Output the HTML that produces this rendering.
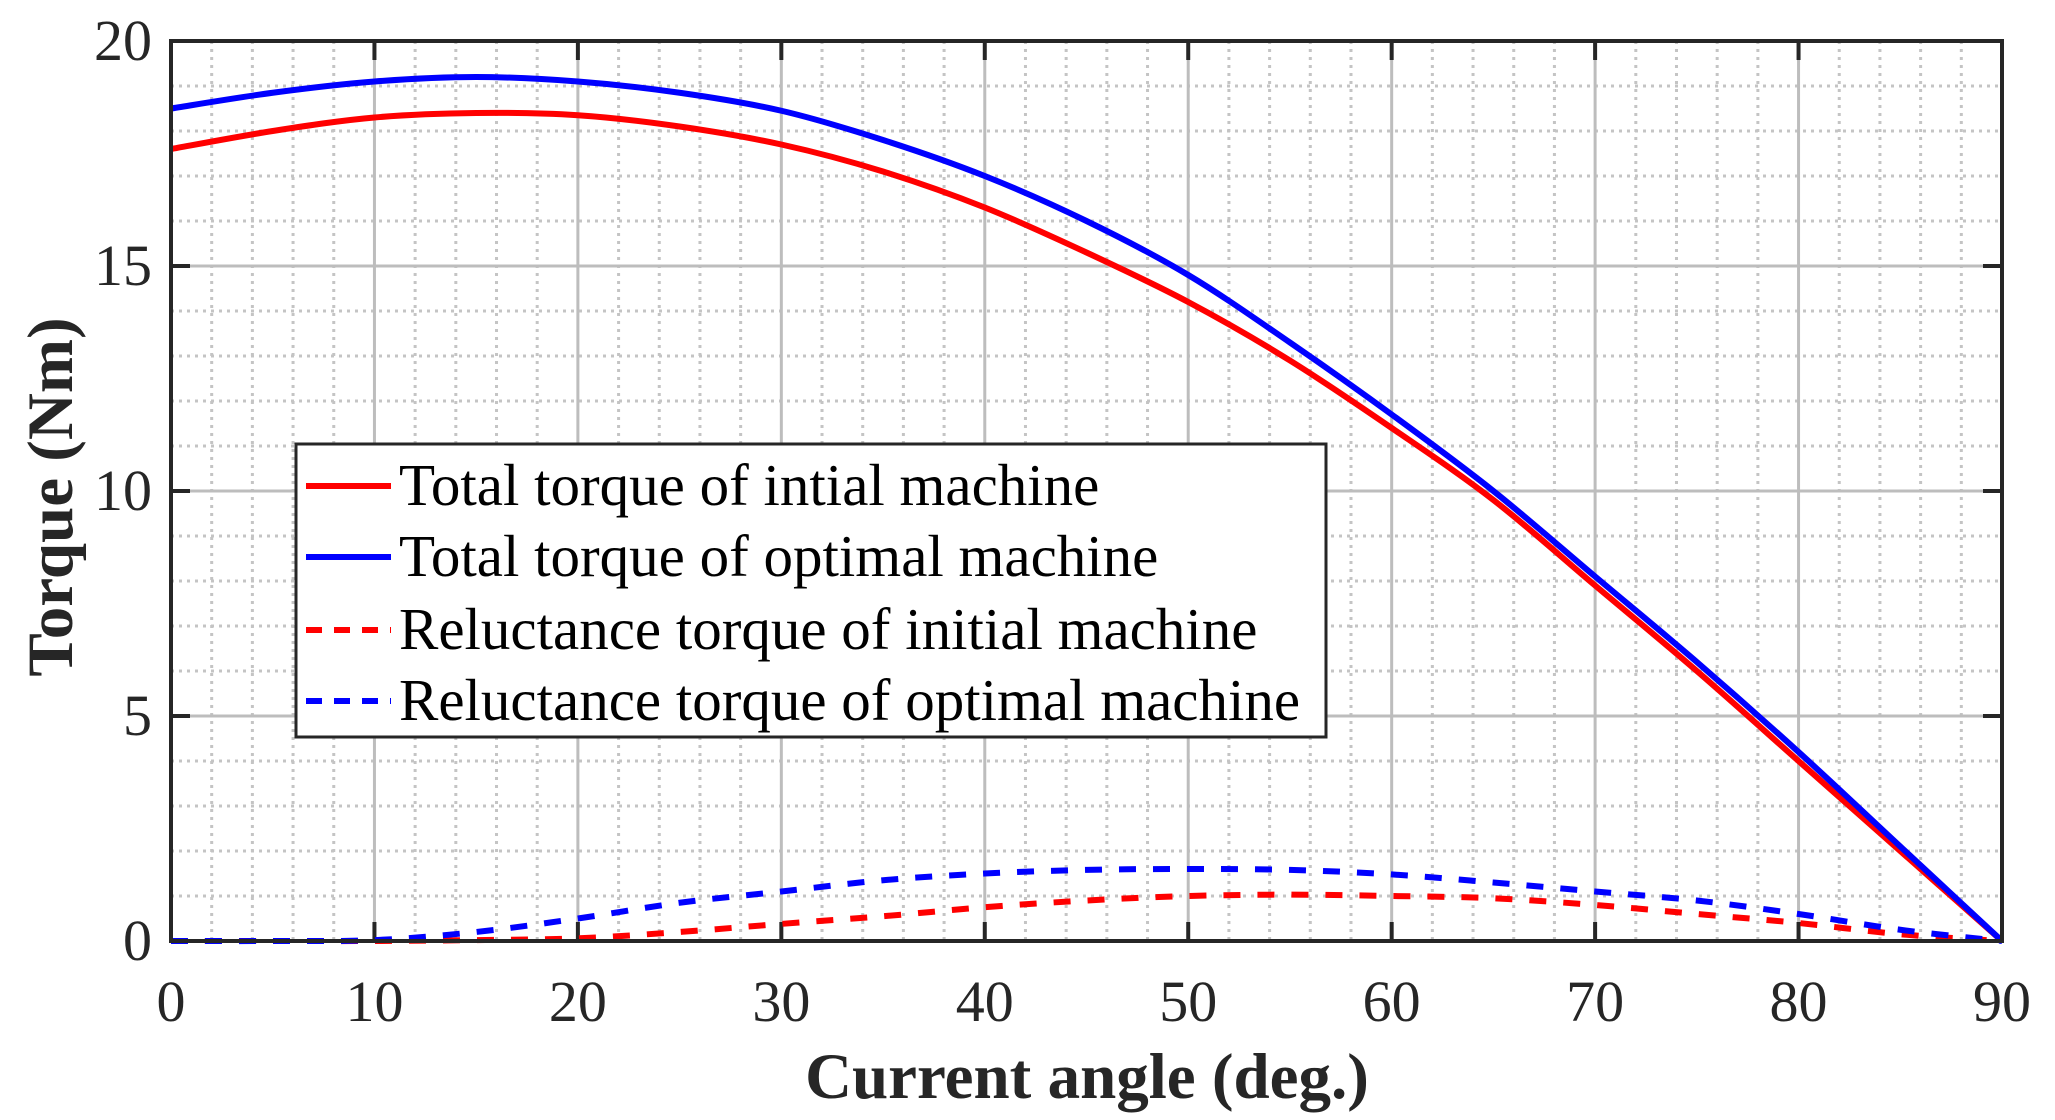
<!DOCTYPE html>
<html><head><meta charset="utf-8"><style>
html,body{margin:0;padding:0;background:#fff;}
svg{display:block;font-family:"Liberation Serif",serif;}
</style></head><body>
<svg id="chart" width="2055" height="1120" viewBox="0 0 2055 1120" xmlns="http://www.w3.org/2000/svg">
<g id="grid"></g>
<g id="ticks"></g>
<g id="series"></g>
<rect x="171" y="41" width="1831" height="900" fill="none" stroke="#262626" stroke-width="4"/>
<text x="1087" y="1098" text-anchor="middle" font-size="65" font-weight="bold" fill="#262626">Current angle (deg.)</text>
<text transform="translate(72,497) rotate(-90)" text-anchor="middle" font-size="65" font-weight="bold" fill="#262626">Torque (Nm)</text>
<g>
<rect x="296" y="444" width="1030" height="293" fill="#fff" stroke="#262626" stroke-width="3"/>
<line x1="306" y1="486" x2="391" y2="486" stroke="#f00" stroke-width="6"/>
<text x="399" y="505" font-size="59" fill="#000">Total torque of intial machine</text>
<line x1="306" y1="557" x2="391" y2="557" stroke="#00f" stroke-width="6"/>
<text x="399" y="576" font-size="59" fill="#000">Total torque of optimal machine</text>
<line x1="306" y1="630" x2="391" y2="630" stroke="#f00" stroke-width="6" stroke-dasharray="16 12"/>
<text x="399" y="649" font-size="59" fill="#000">Reluctance torque of initial machine</text>
<line x1="306" y1="701" x2="391" y2="701" stroke="#00f" stroke-width="6" stroke-dasharray="16 12"/>
<text x="399" y="720" font-size="59" fill="#000">Reluctance torque of optimal machine</text>
</g>
</svg>
<script>
const angles = [0,5,10,15,20,25,30,35,40,45,50,55,60,65,70,75,80,85,90];
const totalInitial = [17.6,18.0,18.3,18.4,18.35,18.1,17.7,17.1,16.3,15.3,14.2,12.9,11.4,9.8,7.9,6.0,4.0,2.0,0];
const totalOptimal = [18.5,18.85,19.1,19.2,19.1,18.85,18.45,17.8,17.0,16.0,14.8,13.3,11.7,10.0,8.1,6.2,4.2,2.1,0];
const relInitial = [0,0,0,0.02,0.06,0.2,0.38,0.55,0.75,0.9,1.0,1.03,1.0,0.95,0.8,0.6,0.4,0.15,0];
const relOptimal = [0,0,0.02,0.2,0.5,0.85,1.1,1.35,1.5,1.58,1.6,1.58,1.48,1.3,1.1,0.9,0.6,0.25,0];
const xTicks = [0,10,20,30,40,50,60,70,80,90];
const yTicks = [0,5,10,15,20];
const NS='http://www.w3.org/2000/svg';
const X0=171,X1=2002,Y0=941,Y1=41;
function xs(v){return X0+(v-0)/(90-0)*(X1-X0);}
function ys(v){return Y0-(v-0)/(20-0)*(Y0-Y1);}
function mk(tag,attrs,parent){const e=document.createElementNS(NS,tag);for(const k in attrs)e.setAttribute(k,attrs[k]);parent.appendChild(e);return e;}
const grid=document.getElementById('grid');
for(let v=2;v<90;v+=2){if(v%10===0)continue;
 const l=mk('line',{x1:xs(v),x2:xs(v),y1:Y1,y2:Y0,stroke:'#c4c4c4','stroke-width':3,'stroke-dasharray':'3 5'},grid);
 
 }
for(let v=1;v<20;v++){if(v%5===0)continue;
 const l=mk('line',{x1:X0,x2:X1,y1:ys(v),y2:ys(v),stroke:'#c4c4c4','stroke-width':3,'stroke-dasharray':'3 5'},grid);
 
 }
const tk=document.getElementById('ticks');
xTicks.forEach(v=>{
 if(v>0&&v<90){const l=mk('line',{x1:xs(v),x2:xs(v),y1:Y1,y2:Y0,stroke:'#bdbdbd','stroke-width':3},grid);
 
 
 const t1=mk('line',{x1:xs(v),x2:xs(v),y1:Y1,y2:Y1+19,stroke:'#262626','stroke-width':4},tk);
 
 
 const t2=mk('line',{x1:xs(v),x2:xs(v),y1:Y0,y2:Y0-19,stroke:'#262626','stroke-width':4},tk);
 
 }
 const t=mk('text',{x:xs(v),y:1021,'text-anchor':'middle','font-size':58,fill:'#262626'},tk);
 t.textContent=v;
 
 
});
yTicks.forEach(v=>{
 if(v>0&&v<20){const l=mk('line',{x1:X0,x2:X1,y1:ys(v),y2:ys(v),stroke:'#bdbdbd','stroke-width':3},grid);
 
 
 const t1=mk('line',{x1:X0,x2:X0+19,y1:ys(v),y2:ys(v),stroke:'#262626','stroke-width':4},tk);
 
 
 const t2=mk('line',{x1:X1,x2:X1-19,y1:ys(v),y2:ys(v),stroke:'#262626','stroke-width':4},tk);
 
 }
 const t=mk('text',{x:152,y:ys(v)+19,'text-anchor':'end','font-size':58,fill:'#262626'},tk);
 t.textContent=v;
 
 
});
function smooth(vals){
 const p=angles.map((a,i)=>[xs(a),ys(vals[i])]);
 let d='M'+p[0][0]+','+p[0][1];
 for(let i=0;i<p.length-1;i++){
  const p0=p[Math.max(0,i-1)],p1=p[i],p2=p[i+1],p3=p[Math.min(p.length-1,i+2)];
  const c1=[p1[0]+(p2[0]-p0[0])/6,p1[1]+(p2[1]-p0[1])/6];
  const c2=[p2[0]-(p3[0]-p1[0])/6,p2[1]-(p3[1]-p1[1])/6];
  d+=' C'+c1[0]+','+c1[1]+' '+c2[0]+','+c2[1]+' '+p2[0]+','+p2[1];
 }
 return d;
}
const sg=document.getElementById('series');
const defs=[[relInitial,'#f00',true,'reluctance-initial-line'],[relOptimal,'#00f',true,'reluctance-optimal-line'],[totalInitial,'#f00',false,'total-initial-line'],[totalOptimal,'#00f',false,'total-optimal-line']];
defs.forEach(([vals,c,dash,name])=>{
 const a={d:smooth(vals),fill:'none',stroke:c,'stroke-width':6,'stroke-linejoin':'round'};
 if(dash)a['stroke-dasharray']='17 17';
 const p=mk('path',a,sg);
 
 
});
</script>
</body></html>
